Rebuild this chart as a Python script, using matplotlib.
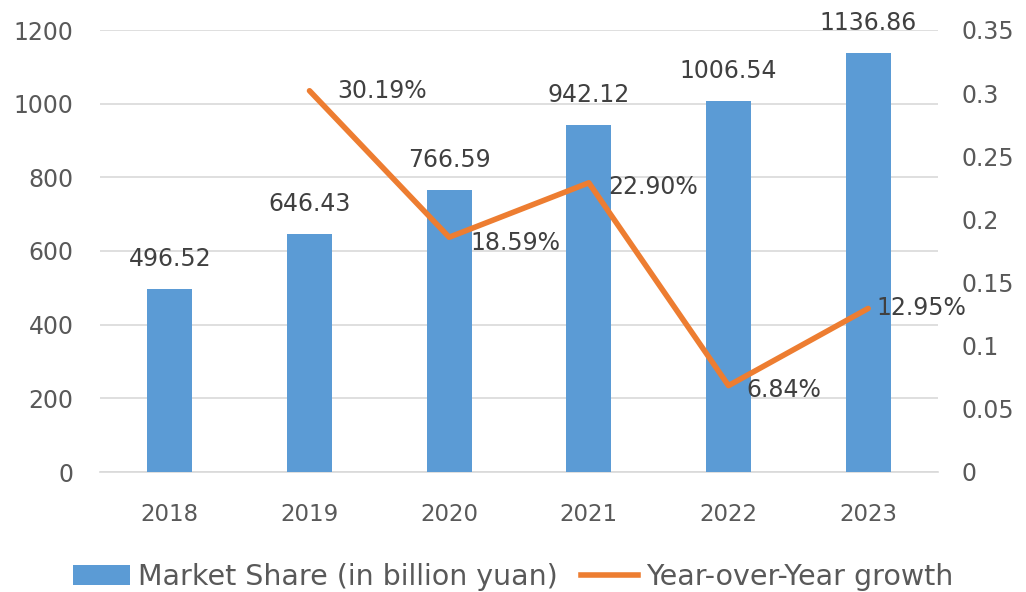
import matplotlib
matplotlib.use("Agg")
import matplotlib.pyplot as plt
from matplotlib.lines import Line2D
from matplotlib.patches import Patch
import numpy as np

years = ["2018", "2019", "2020", "2021", "2022", "2023"]
market = [496.52, 646.43, 766.59, 942.12, 1006.54, 1136.86]
growth_years = ["2019", "2020", "2021", "2022", "2023"]
growth = [0.3019, 0.1859, 0.2290, 0.0684, 0.1295]
left_ticks = [0, 200, 400, 600, 800, 1000, 1200]
right_ticks = [0, 0.05, 0.1, 0.15, 0.2, 0.25, 0.3, 0.35]

BLUE = "#5B9BD5"
ORANGE = "#ED7D31"
TXT = "#595959"
GRID = "#D9D9D9"

fam = ["DejaVu Sans"]

fig = plt.figure(figsize=(10.26, 5.92), dpi=100)
ax = fig.add_axes([100/1026, 1-472/592, 838/1026, 442/592])
ax2 = ax.twinx()

x = np.arange(len(years))
ax.bar(x, market, width=0.32, color=BLUE, zorder=3)
ax.set_xlim(-0.5, len(years) - 0.5)
ax.set_ylim(0, 1200)
ax.set_yticks(left_ticks)
ax.set_yticklabels([str(t) for t in left_ticks], fontsize=17, color=TXT, family=fam)
ax.set_xticks(x)
ax.set_xticklabels(years, fontsize=16.5, color=TXT, family=fam)
ax.tick_params(axis="both", length=0)
ax.tick_params(axis="y", pad=19)
ax.tick_params(axis="x", pad=22)
ax.grid(axis="y", color=GRID, linewidth=1.2, zorder=0)
ax.set_axisbelow(True)
for s in ax.spines.values():
    s.set_visible(False)
ax.spines["bottom"].set_visible(True)
ax.spines["bottom"].set_color(GRID)
ax.spines["bottom"].set_linewidth(1.2)

for xi, v in zip(x, market):
    ax.annotate(f"{v:.2f}", (xi, v), xytext=(0, 13), textcoords="offset points",
                ha="center", va="bottom", fontsize=17, color="#404040", family=fam)

gx = [years.index(y) for y in growth_years]
ax2.plot(gx, growth, color=ORANGE, linewidth=4, solid_capstyle="round", zorder=4)
ax2.set_ylim(0, 0.35)
ax2.set_yticks(right_ticks)
ax2.set_yticklabels([f"{t:g}" for t in right_ticks], fontsize=17, color=TXT, family=fam)
ax2.tick_params(axis="y", length=0, pad=17)
for s in ax2.spines.values():
    s.set_visible(False)

offsets = [(20, 0), (15, -4), (14, -3), (13, -3), (6, 0)]
for xi, v, off in zip(gx, growth, offsets):
    ax2.annotate(f"{v*100:.2f}%", (xi, v), xytext=off, textcoords="offset points",
                 ha="left", va="center", fontsize=17, color="#404040", family=fam)

handles = [Patch(facecolor=BLUE, edgecolor="none"),
           Line2D([0], [0], color=ORANGE, linewidth=4)]
fig.legend(handles, ["Market Share (in billion yuan)", "Year-over-Year growth"],
           loc="center", bbox_to_anchor=(0.5, 1-577/592), ncol=2, frameon=False,
           prop={"family": fam, "size": 20.5}, labelcolor=TXT,
           handlelength=2.0, handletextpad=0.3, columnspacing=0.8)

fig.savefig("out.png", dpi=100)
